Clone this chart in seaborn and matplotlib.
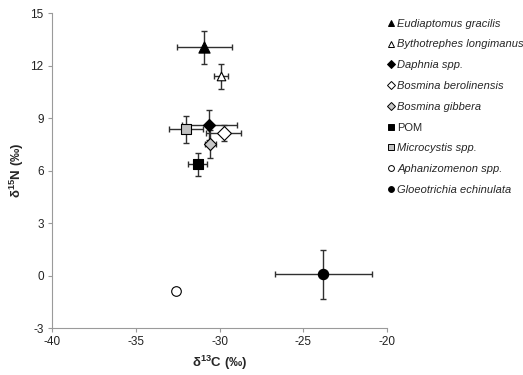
import matplotlib
matplotlib.use("Agg")
import matplotlib.pyplot as plt
import seaborn as sns
import pandas as pd
from matplotlib.lines import Line2D

species = ["Eudiaptomus gracilis", "Bythotrephes longimanus", "Daphnia spp.",
           "Bosmina berolinensis", "Bosmina gibbera", "POM", "Microcystis spp.",
           "Aphanizomenon spp.", "Gloeotrichia echinulata"]
d13C = [-30.9, -29.9, -30.6, -29.75, -30.55, -31.3, -32.0, -32.6, -23.8]
d15N = [13.05, 11.4, 8.6, 8.15, 7.5, 6.35, 8.35, -0.9, 0.08]
sdC = [1.65, 0.4, 1.64, 1.05, 0.32, 0.56, 1.0, 0.0, 2.9]
sdN = [0.95, 0.72, 0.88, 0.48, 0.8, 0.67, 0.76, 0.0, 1.4]
markers = ["^", "^", "D", "D", "D", "s", "s", "o", "o"]
faces = ["black", "white", "black", "white", "#c8c8c8", "black", "#c0c0c0", "white", "black"]
msizes = [65, 38, 38, 50, 38, 60, 60, 48, 55]
italic = [True, True, True, True, True, False, True, True, True]

df = pd.DataFrame({"species": species, "d13C": d13C, "d15N": d15N,
                   "sdC": sdC, "sdN": sdN})

sns.set_style("white")
plt.rcParams["font.family"] = ["Liberation Sans", "DejaVu Sans"]
plt.rcParams["axes.unicode_minus"] = False
plt.rcParams["mathtext.fontset"] = "custom"
plt.rcParams["mathtext.rm"] = "Liberation Sans"
plt.rcParams["mathtext.bf"] = "Liberation Sans:bold"

fig = plt.figure(figsize=(5.23, 3.75), dpi=100)
ax = fig.add_axes([0.0994, 0.1253, 0.6406, 0.8397])

for i, row in df.iterrows():
    if row.sdC > 0 or row.sdN > 0:
        ax.errorbar(row.d13C, row.d15N, xerr=row.sdC, yerr=row.sdN, fmt="none",
                    ecolor="#303030", elinewidth=1.0, capsize=2.3, capthick=1.0, zorder=2)

for i, row in df.iterrows():
    sns.scatterplot(x=[row.d13C], y=[row.d15N], marker=markers[i], s=msizes[i],
                    color=faces[i], edgecolor="black", linewidth=0.8, ax=ax, zorder=3,
                    legend=False)

ax.set_xlim(-40, -20)
ax.set_ylim(-3, 15)
ax.set_xticks([-40, -35, -30, -25, -20])
ax.set_yticks([-3, 0, 3, 6, 9, 12, 15])
for s in ["top", "right"]:
    ax.spines[s].set_visible(False)
for s in ["left", "bottom"]:
    ax.spines[s].set_color("#9a9a9a")
    ax.spines[s].set_linewidth(0.8)
ax.tick_params(axis="both", direction="out", length=3, width=0.8, color="#9a9a9a",
               labelsize=8.5, labelcolor="#222222", left=True, bottom=True, pad=3)
ax.set_xlabel("δ$^{\\mathbf{13}}$C (‰)", fontsize=9.5, fontweight="bold", labelpad=4)
ax.set_ylabel("δ$^{\\mathbf{15}}$N (‰)", fontsize=9.5, fontweight="bold", labelpad=3)

handles = []
for i, sp in enumerate(species):
    handles.append(Line2D([], [], linestyle="none", marker=markers[i],
                          markerfacecolor=faces[i], markeredgecolor="black",
                          markeredgewidth=0.7, markersize=4.2))
leg = fig.legend(handles, species, loc="upper left", bbox_to_anchor=(0.732, 0.962),
                 frameon=False, fontsize=8, handlelength=0.6, handletextpad=0.3,
                 labelspacing=0.97, borderaxespad=0)
for t, it in zip(leg.get_texts(), italic):
    if it:
        t.set_fontstyle("italic")

fig.savefig("out.png", dpi=100)
